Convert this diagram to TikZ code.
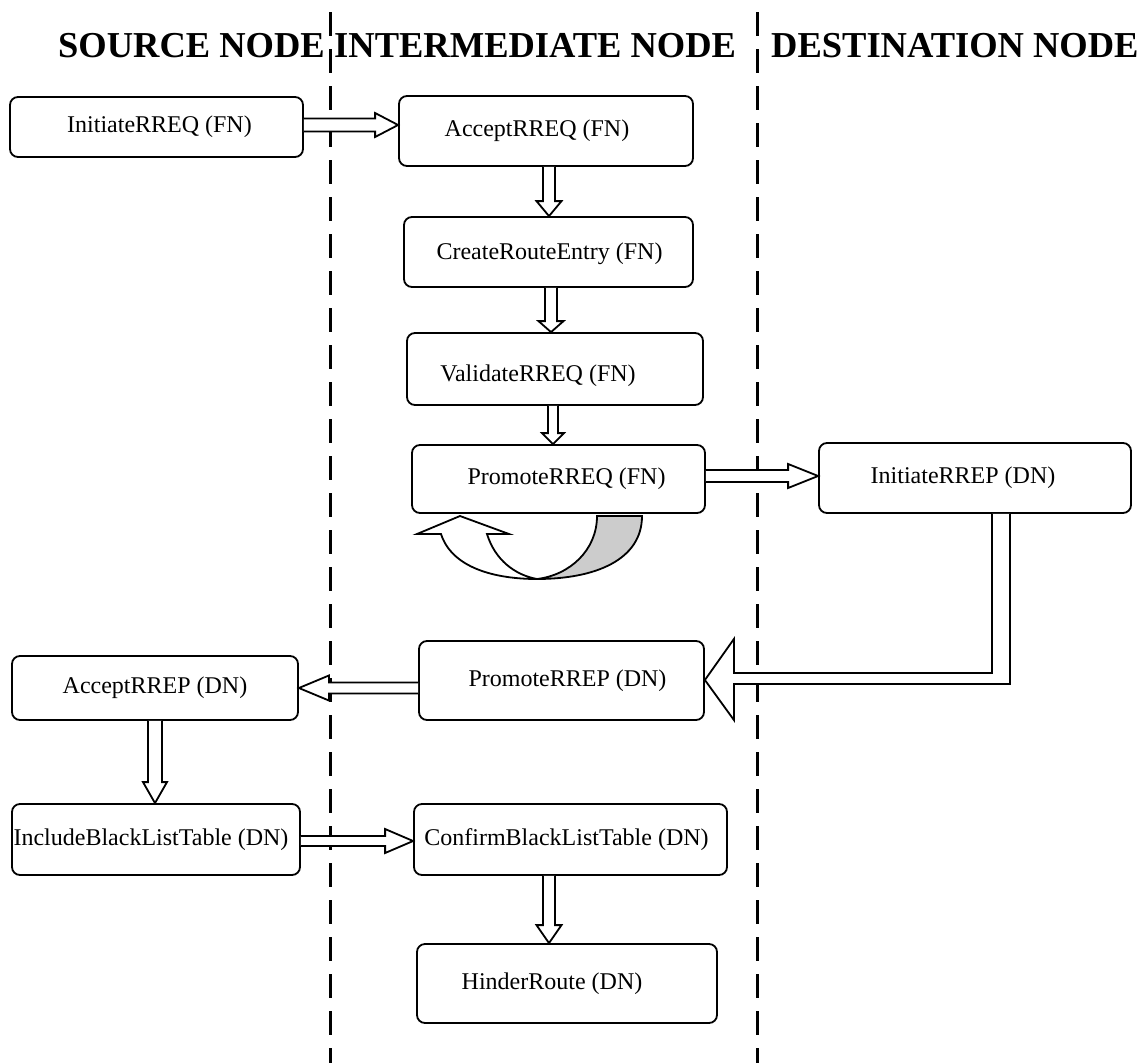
\documentclass[tikz,border=0pt]{standalone}
\usepackage{fontspec}
\setmainfont{Liberation Serif}
\usetikzlibrary{calc}
\newcommand\bt[3]{\hspace*{#1pt}\raisebox{-#2pt}[\height][\depth]{#3}\hspace*{-#1pt}}
\newcommand\blkarrow[5]{%
  \coordinate (hb) at ($(#2)!#5!(#1)$);
  \draw[blk] ($(#1)!#3!90:(#2)$) -- ($(hb)!#3!90:(#2)$) -- ($(hb)!#4!90:(#2)$) -- (#2)
    -- ($(hb)!#4!-90:(#2)$) -- ($(hb)!#3!-90:(#2)$) -- ($(#1)!#3!-90:(#2)$);
}
\begin{document}
\begin{tikzpicture}[x=1pt,y=-1pt,
  box/.style={draw, line width=1.8pt, rounded corners=8pt, fill=white, inner sep=0pt,
    font=\fontsize{24}{28}\selectfont},
  blk/.style={draw, line width=1.8pt, fill=white, line join=miter, miter limit=10},
  hdr/.style={font=\bfseries\fontsize{36.5}{40}\selectfont, inner sep=0pt},
  lane/.style={line width=3pt, dash pattern=on 24pt off 13pt}]
\useasboundingbox (0,0) rectangle (1145,1063);
% lane separators
\draw[lane] (330,12) -- (330,1063);
\draw[lane] (757.5,12) -- (757.5,1063);
% headers
\node[hdr, anchor=base east] (hs) at (325,57) {SOURCE NODE};
\node[hdr, anchor=base west] (hi) at (334,57) {INTERMEDIATE NODE};
\node[hdr, anchor=base west] (hd) at (771,57) {DESTINATION NODE};
% boxes
\node[box, minimum width=293pt, minimum height=60pt] (n1) at (156.5,127) {\bt{3}{0}{InitiateRREQ (FN)}};
\node[box, minimum width=294pt, minimum height=70pt] (n2) at (546,131) {\bt{-9}{0}{AcceptRREQ (FN)}};
\node[box, minimum width=289pt, minimum height=70pt] (n3) at (548.5,252) {\bt{1}{2}{CreateRouteEntry (FN)}};
\node[box, minimum width=296pt, minimum height=72pt] (n4) at (555,369) {\bt{-17}{7}{ValidateRREQ (FN)}};
\node[box, minimum width=293pt, minimum height=68pt] (n5) at (558.5,479) {\bt{8}{0}{PromoteRREQ (FN)}};
\node[box, minimum width=312pt, minimum height=70pt] (n6) at (975,478) {\bt{-12}{0}{InitiateRREP (DN)}};
\node[box, minimum width=285pt, minimum height=79pt] (n7) at (561.5,680.5) {\bt{6}{0}{PromoteRREP (DN)}};
\node[box, minimum width=286pt, minimum height=64pt] (n8) at (155,688) {\bt{0}{0}{AcceptRREP (DN)}};
\node[box, minimum width=288pt, minimum height=71pt] (n9) at (156,839.5) {\bt{-5}{0}{IncludeBlackListTable (DN)}};
\node[box, minimum width=313pt, minimum height=71pt] (n10) at (570.5,839.5) {\bt{-4}{0}{ConfirmBlackListTable (DN)}};
\node[box, minimum width=300pt, minimum height=79pt] (n11) at (567,983.5) {\bt{-15}{0}{HinderRoute (DN)}};
% block arrows
\coordinate (a1s) at (n1.east |- 0,125); \coordinate (a1t) at (n2.west |- 0,125);
\blkarrow{a1s}{a1t}{6.5pt}{12pt}{23pt}
\coordinate (a2s) at (549,0 |- n2.south); \coordinate (a2t) at (549,0 |- n3.north);
\blkarrow{a2s}{a2t}{6pt}{12.5pt}{15pt}
\coordinate (a3s) at (551,0 |- n3.south); \coordinate (a3t) at (551,0 |- n4.north);
\blkarrow{a3s}{a3t}{6pt}{12.5pt}{11pt}
\coordinate (a4s) at (553,0 |- n4.south); \coordinate (a4t) at (553,0 |- n5.north);
\blkarrow{a4s}{a4t}{5pt}{11pt}{11pt}
\coordinate (a5s) at (n5.east |- 0,476); \coordinate (a5t) at (n6.west |- 0,476);
\blkarrow{a5s}{a5t}{6pt}{12pt}{30pt}
\coordinate (a7s) at (n7.west |- 0,688); \coordinate (a7t) at (n8.east |- 0,688);
\blkarrow{a7s}{a7t}{5.5pt}{12.5pt}{30pt}
\coordinate (a8s) at (155,0 |- n8.south); \coordinate (a8t) at (155,0 |- n9.north);
\blkarrow{a8s}{a8t}{7pt}{12pt}{21pt}
\coordinate (a9s) at (n9.east |- 0,841); \coordinate (a9t) at (n10.west |- 0,841);
\blkarrow{a9s}{a9t}{5pt}{12pt}{28pt}
\coordinate (a10s) at (549,0 |- n10.south); \coordinate (a10t) at (549,0 |- n11.north);
\blkarrow{a10s}{a10t}{6pt}{12.5pt}{18pt}
% L-shaped arrow from InitiateRREP to PromoteRREP
\coordinate (Ls) at (1001,0 |- n6.south);
\coordinate (Lt) at (n7.east |- 0,680);
\draw[blk] ($(Ls)+(-9,0)$) |- ($(Lt)+(29,-7)$) -- ($(Lt)+(29,-41)$) -- (Lt)
  -- ($(Lt)+(29,40)$) -- ($(Lt)+(29,4)$) -| ($(Ls)+(9,0)$);
% curved (loop) arrow under PromoteRREQ
\draw[blk, fill=gray!40] (537,579) .. controls (595,579) and (642,560) .. (642,516)
  -- (597,516) .. controls (597,550) and (570,575) .. cycle;
\draw[blk] (441,534) .. controls (452,568) and (495,579) .. (537,579)
  .. controls (515,575) and (495,560) .. (487,534) -- (509,534) -- (460,516) -- (417,534) -- cycle;
\end{tikzpicture}
\end{document}
